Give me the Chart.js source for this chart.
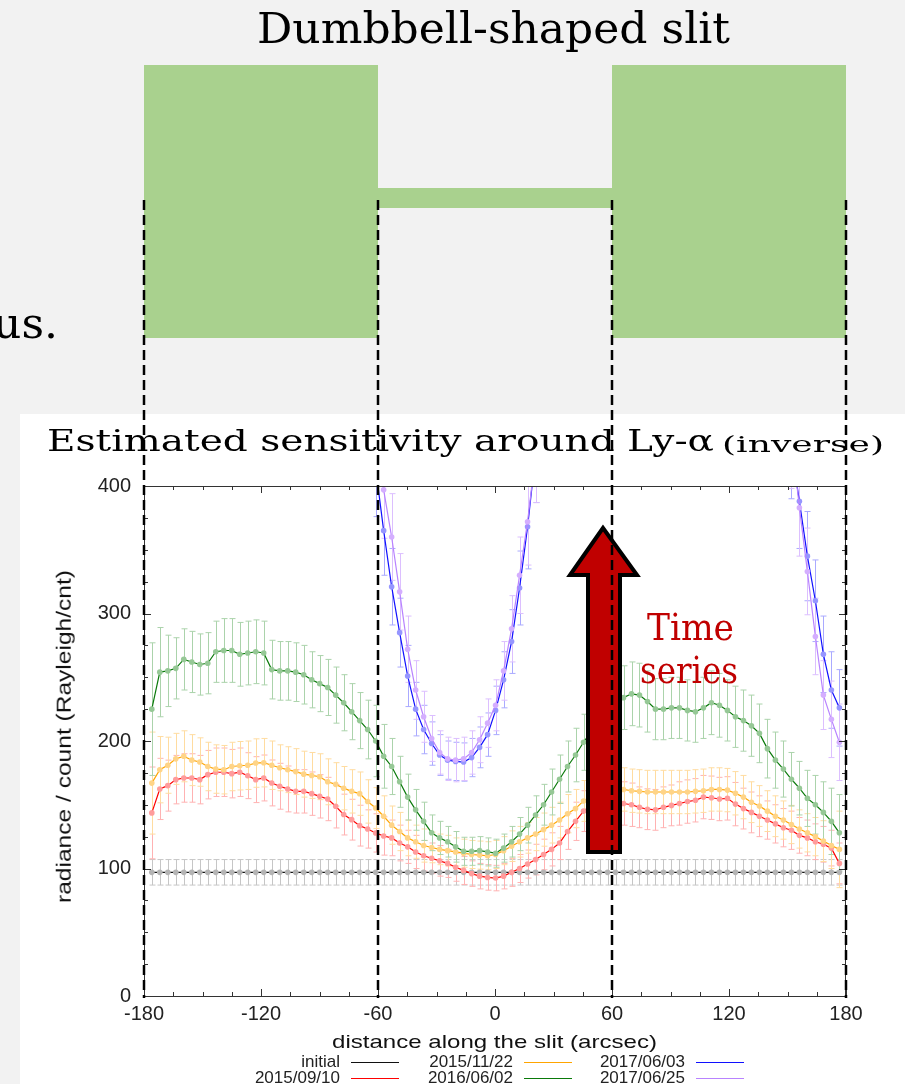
<!DOCTYPE html>
<html>
<head>
<meta charset="utf-8">
<script src="https://cdn.jsdelivr.net/npm/chart.js@4.4.0/dist/chart.umd.min.js"></script>
<style>
  html, body { margin: 0; padding: 0; background: #f2f2f2; }
  #wrap { position: relative; width: 905px; height: 1084px; overflow: hidden; }
  #c { position: absolute; left: 0; top: 0; }
  .t { position: absolute; left: 0; top: 0; white-space: nowrap; line-height: 1; transform-origin: 0 0; }
  .lg { position: absolute; height: 1.5px; }
</style>
</head>
<body>
<div id="wrap">
  <canvas id="c" width="905" height="1084"></canvas>
</div>
<script>
const N = null

// distance along the slit (arcsec), one sample per slit pixel
const xPos = [-176.0, -171.9, -167.8, -163.7, -159.6, -155.5, -151.4, -147.3, -143.2, -139.1,
  -135.0, -130.9, -126.8, -122.7, -118.6, -114.5, -110.4, -106.3, -102.2, -98.1,
  -94.0, -89.9, -85.8, -81.7, -77.6, -73.5, -69.4, -65.3, -61.2, -57.1,
  -53.0, -48.9, -44.8, -40.7, -36.6, -32.5, -28.4, -24.3, -20.2, -16.1,
  -12.0, -7.9, -3.8, 0.3, 4.4, 8.5, 12.6, 16.7, 20.8, 24.9,
  29.0, 33.1, 37.2, 41.3, 45.4, 49.5, 53.6, 57.7, 61.8, 65.9,
  70.0, 74.1, 78.2, 82.3, 86.4, 90.5, 94.6, 98.7, 102.8, 106.9,
  111.0, 115.1, 119.2, 123.3, 127.4, 131.5, 135.6, 139.7, 143.8, 147.9,
  152.0, 156.1, 160.2, 164.3, 168.4, 172.5, 176.6]

const seriesNames = ['initial', '2015/09/10', '2015/11/22', '2016/06/02', '2017/06/03', '2017/06/25']

const initialVals = [97, 97, 97, 97, 97, 97, 97, 97, 97, 97, 97, 97, 97, 97, 97, 97, 97, 97, 97, 97,
  97, 97, 97, 97, 97, 97, 97, 97, 97, 97, 97, 97, 97, 97, 97, 97, 97, 97, 97, 97,
  97, 97, 97, 97, 97, 97, 97, 97, 97, 97, 97, 97, 97, 97, 97, 97, 97, 97, 97, 97,
  97, 97, 97, 97, 97, 97, 97, 97, 97, 97, 97, 97, 97, 97, 97, 97, 97, 97, 97, 97,
  97, 97, 97, 97, 97, 97, 97]
const initialErr = [10, 10, 10, 10, 10, 10, 10, 10, 10, 10, 10, 10, 10, 10, 10, 10, 10, 10, 10, 10,
  10, 10, 10, 10, 10, 10, 10, 10, 10, 10, 10, 10, 10, 10, 10, 10, 10, 10, 10, 10,
  10, 10, 10, 10, 10, 10, 10, 10, 10, 10, 10, 10, 10, 10, 10, 10, 10, 10, 10, 10,
  10, 10, 10, 10, 10, 10, 10, 10, 10, 10, 10, 10, 10, 10, 10, 10, 10, 10, 10, 10,
  10, 10, 10, 10, 10, 10, 10]

const sep2015Vals = [143.6, 162.4, 165, 169.7, 171, 171, 169.7, 173.6, 175.5, 175.5,
  174.4, 175.5, 172.8, 169.7, 171, 167.1, 164.5, 162.4, 160.5, 160.5,
  158.7, 156.6, 154.5, 148.8, 142.3, 138.3, 133.6, 131, 127.9, 125.5,
  124, 120, 117, 113, 110, 108, 106, 104, 101, 98.5,
  96, 94, 93, 92.5, 94, 97, 100, 103.5, 107, 111,
  115, 120, 129, 137, 145, 150, 152, 152, 152, 151,
  150, 148, 146.5, 146, 148, 149.5, 151, 152.5, 153.5, 156,
  155.5, 154.5, 155, 150.5, 147, 144, 141, 138, 135, 132,
  130, 126, 124, 121, 119, 116, 104]
const sep2015Err = [36, 24, 20, 19, 19, 19, 19, 19, 19, 19, 19, 19, 18, 18, 18, 18, 18, 18, 17, 17,
  17, 17, 17, 17, 16, 16, 16, 15, 15, 15, 14, 14, 13, 13, 12, 12, 12, 11, 11, 11,
  10, 10, 10, 10, 10, 11, 11, 11, 12, 12, 13, 13, 14, 15, 16, 16, 17, 17, 17, 17,
  17, 16, 16, 16, 16, 16, 17, 17, 17, 17, 17, 17, 17, 17, 16, 16, 16, 15, 15, 15,
  15, 14, 14, 14, 14, 14, 16]

const nov2015Vals = [167, 177.5, 181, 186, 188, 185, 183.5, 180, 178, 177.5,
  180, 180.6, 181, 182.7, 183, 181, 179, 177.5, 176, 174,
  173, 172, 168, 166, 163, 160.5, 158.7, 152.6, 147.4, 141,
  134, 129, 124, 121, 118, 116.5, 115, 114, 113, 112,
  111, 110.5, 110, 111, 114, 117.5, 121, 124, 127, 130.5,
  134, 138, 143, 147, 153, 157, 160, 162, 163, 162,
  161, 160.5, 160, 160, 160, 160, 160, 160, 160.5, 161,
  162, 162, 161.5, 159, 156, 152, 149, 145, 141, 138,
  134.5, 131, 128, 125, 121.5, 118, 115]
const nov2015Err = [40, 26, 22, 20, 20, 20, 19, 19, 19, 19, 19, 19, 19, 19, 19, 19, 18, 18, 18, 18,
  18, 18, 18, 17, 17, 17, 17, 17, 16, 16, 15, 15, 14, 13, 13, 12, 12, 12, 11, 11,
  11, 11, 11, 11, 11, 12, 12, 12, 13, 13, 14, 14, 15, 15, 16, 16, 17, 17, 17, 17,
  17, 17, 17, 17, 17, 17, 17, 17, 17, 17, 17, 17, 17, 17, 17, 16, 16, 16, 16, 15,
  15, 15, 15, 15, 16, 18, 30]

const jun2016Vals = [225, 254, 255, 257, 264, 262, 260, 261, 270, 271,
  271, 268, 269, 270, 269, 256, 255, 255, 254, 252,
  248, 245, 242, 236, 230, 223, 216, 209, 200, 188,
  180, 168, 156, 146, 137, 128, 124, 121, 117, 113.5,
  113.5, 114, 113, 112, 116, 121, 127, 134, 142, 150,
  160, 170, 180, 189, 199, 208, 216, 224, 230, 234,
  237, 236, 231, 225, 225, 226, 226, 224, 223, 226,
  230, 228, 224, 219, 216, 212, 206, 194, 185, 178,
  170, 163, 155, 150, 144, 137, 128]
const jun2016Err = [52, 35, 28, 24, 24, 24, 24, 24, 24, 25, 25, 25, 25, 25, 25, 23, 23, 23, 23, 23,
  22, 22, 22, 22, 22, 22, 22, 23, 28, 25, 22, 20, 18, 16, 15, 14, 13, 12, 12, 11,
  11, 11, 11, 11, 11, 12, 13, 14, 15, 16, 18, 19, 20, 21, 22, 23, 24, 25, 25, 25,
  25, 25, 24, 24, 24, 24, 24, 24, 24, 24, 25, 25, 24, 24, 24, 24, 23, 23, 22, 22,
  21, 21, 22, 23, 24, 26, 30]

const jun03Vals = [N, N, N, N, N, N, N, N, N, N, N, N, N, N, N, N, N, N, N, N,
  N, N, N, N, N, N, N, N, 414, 365, 321, 285, 251, 225, 209, 198, 189, 185, 184, 183.5,
  187, 195, 205, 224, 248, 278, 320, 368, 425, N, N, N, N, N, N, N, N, N, N, N,
  N, N, N, N, N, N, N, N, N, N, N, N, N, N, N, N, N, N, N, N,
  430, 388, 345, 310, 268, 240, 226]
const jun03Err = [N, N, N, N, N, N, N, N, N, N, N, N, N, N, N, N, N, N, N, N,
  N, N, N, N, N, N, N, N, 38, 35, 30, 27, 24, 21, 19, 17, 16, 15, 15, 15,
  15, 16, 17, 19, 22, 25, 29, 33, 38, N, N, N, N, N, N, N, N, N, N, N,
  N, N, N, N, N, N, N, N, N, N, N, N, N, N, N, N, N, N, N, N,
  40, 37, 35, 32, 30, 30, 30]

const jun25Vals = [N, N, N, N, N, N, N, N, N, N, N, N, N, N, N, N, N, N, N, N,
  N, N, N, N, N, N, N, N, 460, 397, 360, 317, 272, 240, 219, 202, 191, 186, 185, 186,
  191, 201, 214, 228, 255, 288, 330, 372, 425, N, N, N, N, N, N, N, N, N, N, N,
  N, N, N, N, N, N, N, N, N, N, N, N, N, N, N, N, N, N, N, N,
  440, 383, 333, 282, 236, 217, 199]
const jun25Err = [N, N, N, N, N, N, N, N, N, N, N, N, N, N, N, N, N, N, N, N,
  N, N, N, N, N, N, N, N, 42, 38, 34, 30, 26, 23, 20, 18, 17, 17, 17, 17,
  17, 18, 19, 20, 23, 26, 30, 34, 38, N, N, N, N, N, N, N, N, N, N, N,
  N, N, N, N, N, N, N, N, N, N, N, N, N, N, N, N, N, N, N, N,
  42, 38, 34, 30, 27, 30, 30]

const allVals = [initialVals, sep2015Vals, nov2015Vals, jun2016Vals, jun03Vals, jun25Vals]
const allErrs = [initialErr, sep2015Err, nov2015Err, jun2016Err, jun03Err, jun25Err]

// slit edges (arcsec) marked by the dashed guides
const slitEdges = [-180, -60, 60, 180]

const lineColors = ['#111111', '#ff0000', '#ffa500', '#0a7a0a', '#1010ff', '#b883ff']
const markColors = ['#b4b4b4', '#ff9c9c', '#ffd487', '#96c896', '#9696ff', '#d4aeff']
const barColors = ['#c6c6c6', '#ffb2b2', '#ffdca0', '#abd3ab', '#aaaaff', '#dcbfff']

Chart.defaults.font.family = '"Liberation Sans", Arial, sans-serif'

const errorBars = {
  id: 'errorBars',
  beforeDatasetsDraw(chart) {
    const { ctx, chartArea: a, scales: { x, y } } = chart
    ctx.save()
    ctx.beginPath()
    ctx.rect(a.left, a.top, a.right - a.left, a.bottom - a.top)
    ctx.clip()
    ctx.lineWidth = 1
    chart.data.datasets.forEach((ds) => {
      ctx.strokeStyle = ds.barColor
      ds.data.forEach((p, i) => {
        const e = ds.errs[i]
        if (p.y === null || e === null) return
        const px = Math.round(x.getPixelForValue(p.x)) + 0.5
        const top = y.getPixelForValue(p.y + e)
        const bot = y.getPixelForValue(p.y - e)
        ctx.beginPath()
        ctx.moveTo(px, top); ctx.lineTo(px, bot)
        ctx.moveTo(px - 3, top); ctx.lineTo(px + 3, top)
        ctx.moveTo(px - 3, bot); ctx.lineTo(px + 3, bot)
        ctx.stroke()
      })
    })
    ctx.restore()
  }
}

const decorations = {
  id: 'decorations',
  beforeDraw(chart) {
    const { ctx, scales: { x } } = chart
    const [e0, e1, e2, e3] = slitEdges.map(v => x.getPixelForValue(v))
    ctx.save()
    ctx.fillStyle = '#f2f2f2'
    ctx.fillRect(0, 0, 905, 1084)
    ctx.fillStyle = '#ffffff'
    ctx.fillRect(20, 414, 885, 670)
    // dumbbell slit shape
    ctx.fillStyle = '#a9d18e'
    ctx.fillRect(e0, 65, e1 - e0, 273)
    ctx.fillRect(e1, 188, e2 - e1, 20)
    ctx.fillRect(e2, 65, e3 - e2, 273)
    ctx.restore()
  },
  afterDatasetsDraw(chart) {
    const { ctx, chartArea: a, scales: { x, y } } = chart
    ctx.save()
    // frame + inward ticks on all four sides
    ctx.strokeStyle = '#333'
    ctx.lineWidth = 1
    ctx.beginPath()
    ctx.moveTo(a.left, a.top + 0.5); ctx.lineTo(a.right, a.top + 0.5)
    ctx.moveTo(a.right - 0.5, a.top); ctx.lineTo(a.right - 0.5, a.bottom)
    for (let v = -180; v <= 180; v += 15) {
      const px = Math.round(x.getPixelForValue(v)) + 0.5
      const len = v % 60 === 0 ? 7 : 4
      ctx.moveTo(px, a.bottom); ctx.lineTo(px, a.bottom - len)
      ctx.moveTo(px, a.top); ctx.lineTo(px, a.top + len)
    }
    for (let v = 0; v <= 400; v += 25) {
      const py = Math.round(y.getPixelForValue(v)) + 0.5
      const len = v % 100 === 0 ? 7 : 4
      ctx.moveTo(a.left, py); ctx.lineTo(a.left + len, py)
      ctx.moveTo(a.right, py); ctx.lineTo(a.right - len, py)
    }
    ctx.stroke()

    // "time series" arrow
    ctx.beginPath()
    ctx.moveTo(603, 528)
    ctx.lineTo(570, 575)
    ctx.lineTo(588, 575)
    ctx.lineTo(588, 852)
    ctx.lineTo(620, 852)
    ctx.lineTo(620, 575)
    ctx.lineTo(637, 575)
    ctx.closePath()
    ctx.fillStyle = '#c00000'
    ctx.fill()
    ctx.lineWidth = 4
    ctx.lineJoin = 'miter'
    ctx.strokeStyle = '#000'
    ctx.stroke()

    // dashed guides from the slit edges down to the axis
    ctx.setLineDash([10, 5])
    ctx.lineWidth = 2.5
    ctx.strokeStyle = '#000'
    slitEdges.forEach((v) => {
      const px = x.getPixelForValue(v)
      ctx.beginPath()
      ctx.moveTo(px, 200)
      ctx.lineTo(px, 998)
      ctx.stroke()
    })
    ctx.restore()
  }
}

const chart = new Chart(document.getElementById('c'), {
  type: 'scatter',
  data: {
    datasets: seriesNames.map((name, k) => ({
      label: name,
      data: xPos.map((xv, i) => ({ x: xv, y: allVals[k][i] })),
      errs: allErrs[k],
      barColor: barColors[k],
      showLine: true,
      spanGaps: false,
      borderColor: lineColors[k],
      borderWidth: 1.2,
      pointRadius: 2.8,
      pointStyle: 'circle',
      pointBackgroundColor: markColors[k],
      pointBorderWidth: 0,
      pointHoverRadius: 0,
      clip: 0,
      order: 6 - k
    }))
  },
  options: {
    responsive: false,
    animation: false,
    devicePixelRatio: 1,
    events: [],
    layout: { padding: { left: 0, right: 59, top: 486, bottom: 0 } },
    plugins: { legend: { display: false }, tooltip: { enabled: false } },
    scales: {
      x: {
        type: 'linear', min: -180, max: 180,
        afterFit: (s) => { s.height = 88 },
        grid: { display: false, drawTicks: false },
        border: { display: true, color: '#333', width: 1 },
        ticks: { stepSize: 60, padding: 6, color: '#222', font: { size: 20 }, maxRotation: 0, autoSkip: false }
      },
      y: {
        min: 0, max: 400,
        afterFit: (s) => { s.width = 144 },
        grid: { display: false, drawTicks: false },
        border: { display: true, color: '#333', width: 1 },
        ticks: { stepSize: 100, padding: 13, color: '#222', font: { size: 20 } }
      }
    }
  },
  plugins: [decorations, errorBars]
})

// ---- text laid over the canvas ----
const wrap = document.getElementById('wrap')
const SERIF = '"DejaVu Serif", serif'
const SANS = '"Liberation Sans", Arial, sans-serif'

function putText(txt, o) {
  const el = document.createElement('div')
  el.className = 't'
  el.textContent = txt
  el.style.fontFamily = o.font
  el.style.fontSize = o.size + 'px'
  el.style.color = o.color || '#000'
  wrap.appendChild(el)
  const w = el.getBoundingClientRect().width
  const s = o.w ? o.w / w : 1
  const drop = 0.846 * o.size
  if (o.rot) {
    el.style.transform = `translate(${o.base - drop}px, ${o.y0}px) rotate(-90deg) scaleX(${s})`
  } else {
    const left = o.right !== undefined ? o.right - w * s : o.x
    el.style.transform = `translate(${left}px, ${o.base - drop}px) scaleX(${s})`
  }
  return el
}

putText('Dumbbell-shaped slit', { font: SERIF, size: 43, x: 257, base: 43, w: 473 })
putText('us.', { font: SERIF, size: 43, x: -7, base: 338, w: 65 })
putText('Estimated sensitivity around Ly-α', { font: SERIF, size: 29, x: 47, base: 452, w: 667 })
putText('(inverse)', { font: SERIF, size: 23, x: 722, base: 452, w: 162 })
putText('Time', { font: SERIF, size: 37, x: 647, base: 640, w: 87, color: '#c00000' })
putText('series', { font: SERIF, size: 37, x: 640, base: 683, w: 98, color: '#c00000' })
putText('distance along the slit (arcsec)', { font: SANS, size: 19, x: 332, base: 1048, w: 325, color: '#111' })
putText('radiance / count (Rayleigh/cnt)', { font: SANS, size: 21, rot: true, base: 70.5, y0: 903, w: 333, color: '#111' })

// legend: three columns, label right-aligned before a line sample
const colRight = [340, 513, 685]
const rowBase = [1067, 1083]
chart.data.datasets.forEach((ds, k) => {
  const col = Math.floor(k / 2), row = k % 2
  putText(ds.label, { font: SANS, size: 17, right: colRight[col], base: rowBase[row], color: '#222' })
  const ln = document.createElement('div')
  ln.className = 'lg'
  ln.style.left = (colRight[col] + 11) + 'px'
  ln.style.top = (rowBase[row] - 5.5) + 'px'
  ln.style.width = '48px'
  ln.style.background = ds.borderColor
  wrap.appendChild(ln)
})
</script>
</body>
</html>
